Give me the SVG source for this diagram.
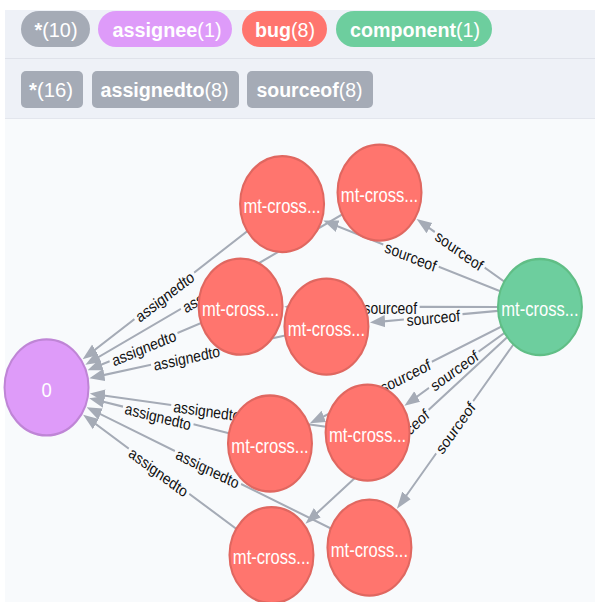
<svg xmlns="http://www.w3.org/2000/svg" width="595" height="602" viewBox="0 0 595 602">
<defs>
<style>
.pt{font-family:"Liberation Sans",Arial,sans-serif;font-size:20px;fill:#fff;text-anchor:middle}
.b{font-weight:bold}
.e{fill:none;stroke:#A5ABB6;stroke-width:1.1;marker-end:url(#ah)}
.el{font-family:"Liberation Sans",Arial,sans-serif;font-size:8.3px;fill:#111;text-anchor:middle}
.nt{font-family:"Liberation Sans",Arial,sans-serif;font-size:11px;fill:#fff;text-anchor:middle}
.bug{fill:#FF756E;stroke:#E06760;stroke-width:1.2}
.asg{fill:#DE9BF9;stroke:#BF85D6;stroke-width:1.2}
.cmp{fill:#6DCE9E;stroke:#60BE86;stroke-width:1.2}
.gp{fill:#A5ABB6}
</style>
<marker id="ah" markerUnits="userSpaceOnUse" viewBox="0 -4 9 8" markerWidth="9" markerHeight="8" refX="4" refY="0" orient="auto"><path d="M0,-3.2 L9,0 L0,3.2 Z" fill="#A5ABB6"/></marker>
</defs>
<rect width="595" height="602" fill="#ffffff"/>
<rect x="5" y="10" width="590" height="108" fill="#EEF1F7"/>
<line x1="5" y1="58.5" x2="595" y2="58.5" stroke="#DFE2EA"/>
<line x1="5" y1="118.5" x2="595" y2="118.5" stroke="#E3E6ED"/>
<rect x="5" y="119" width="590" height="483" fill="#F8FAFC"/>

<g id="legend-labels">
<rect class="gp" x="21" y="11" width="69" height="36" rx="18"/>
<text class="pt" x="56" y="36.5" textLength="43" lengthAdjust="spacingAndGlyphs"><tspan class="b">*</tspan>(10)</text>
<rect x="98" y="11" width="134" height="36" rx="18" fill="#DE9BF9"/>
<text class="pt" x="167" y="36.5" textLength="109" lengthAdjust="spacingAndGlyphs"><tspan class="b">assignee</tspan>(1)</text>
<rect x="242" y="11" width="85" height="36" rx="18" fill="#FF756E"/>
<text class="pt" x="285" y="36.5" textLength="60" lengthAdjust="spacingAndGlyphs"><tspan class="b">bug</tspan>(8)</text>
<rect x="336" y="11" width="156" height="36" rx="18" fill="#6DCE9E"/>
<text class="pt" x="415" y="36.5" textLength="130" lengthAdjust="spacingAndGlyphs"><tspan class="b">component</tspan>(1)</text>
</g>
<g id="legend-types">
<rect class="gp" x="21" y="71" width="62" height="37" rx="5"/>
<text class="pt" x="51" y="96.5" textLength="44" lengthAdjust="spacingAndGlyphs"><tspan class="b">*</tspan>(16)</text>
<rect class="gp" x="92" y="71" width="147" height="37" rx="5"/>
<text class="pt" x="164.5" y="96.5" textLength="128" lengthAdjust="spacingAndGlyphs"><tspan class="b">assignedto</tspan>(8)</text>
<rect class="gp" x="247" y="71" width="126" height="37" rx="5"/>
<text class="pt" x="309.5" y="96.5" textLength="106" lengthAdjust="spacingAndGlyphs"><tspan class="b">sourceof</tspan>(8)</text>
</g>

<g id="graph" transform="matrix(1.68 0 0 1.92 0 0)">
<g id="connectors">
<path class="e" d="M147.23,120.38 L115.57,141.94 M80.03,166.16 L53.33,184.34"/>
<text class="el" transform="translate(97.8,154.05) rotate(-34.26)" y="3.5">assignedto</text>
<path class="e" d="M203.65,111.7 L145.94,141.25 M107.66,160.85 L55.29,187.67"/>
<text class="el" transform="translate(126.8,151.05) rotate(-27.12)" y="3.5">assignedto</text>
<path class="e" d="M119.71,168.26 L105.65,173.39 M65.25,188.11 L56.83,191.18"/>
<text class="el" transform="translate(85.45,180.75) rotate(-20.03)" y="3.5">assignedto</text>
<path class="e" d="M169.74,174.77 L132.12,181.93 M89.88,189.97 L58.15,196.01"/>
<text class="el" transform="translate(111,185.95) rotate(-10.77)" y="3.5">assignedto</text>
<path class="e" d="M136.28,225.64 L115.2,221.01 M73.2,211.79 L57.98,208.45"/>
<text class="el" transform="translate(94.2,216.4) rotate(12.38)" y="3.5">assignedto</text>
<path class="e" d="M193.99,222.25 L144.59,216.18 M101.91,210.92 L58.47,205.59"/>
<text class="el" transform="translate(123.25,213.55) rotate(7.01)" y="3.5">assignedto</text>
<path class="e" d="M140.66,275.45 L112.66,257.19 M76.64,233.71 L53.67,218.73"/>
<text class="el" transform="translate(94.65,245.45) rotate(33.11)" y="3.5">assignedto</text>
<path class="e" d="M196.97,275.25 L143.52,252.06 M104.08,234.94 L56.14,214.14"/>
<text class="el" transform="translate(123.8,243.5) rotate(23.46)" y="3.5">assignedto</text>

<path class="e" d="M297.8,151.66 L261.17,138.87 M228.13,127.33 L197.17,116.52"/>
<text class="el" transform="translate(244.65,133.1) rotate(19.25)" y="3.5">sourceof</text>
<path class="e" d="M300.19,146.66 L288.5,139.36 M258.8,120.84 L252.2,116.71"/>
<text class="el" transform="translate(273.65,130.1) rotate(31.97)" y="3.5">sourceof</text>
<path class="e" d="M296.4,159.93 L249.8,159.82 M214.8,159.78 L174.2,159.73"/>
<text class="el" transform="translate(232.3,159.8)" y="3.5">sourceof</text>
<path class="e" d="M296.48,161.9 L275.29,163.6 M240.41,166.4 L225.2,167.62"/>
<text class="el" transform="translate(257.85,165) rotate(-4.59)" y="3.5">sourceof</text>
<path class="e" d="M298.54,170.02 L257.05,188.37 M225.05,202.53 L189.05,218.46"/>
<text class="el" transform="translate(241.05,195.45) rotate(-23.87)" y="3.5">sourceof</text>
<path class="e" d="M300.32,173.34 L284.86,183.19 M255.34,202.01 L244.94,208.64"/>
<text class="el" transform="translate(270.1,192.6) rotate(-32.52)" y="3.5">sourceof</text>
<path class="e" d="M301.96,175.62 L255.11,213.5 M227.89,235.5 L185.71,269.61"/>
<text class="el" transform="translate(241.5,224.5) rotate(-38.95)" y="3.5">sourceof</text>
<path class="e" d="M305.66,179.33 L281.67,208.95 M259.63,236.15 L239.41,261.11"/>
<text class="el" transform="translate(270.65,222.55) rotate(-51)" y="3.5">sourceof</text>
</g>

<g id="assignee-0"><circle class="asg" cx="27.7" cy="201.8" r="25"/><text class="nt" x="27.7" y="206.6">0</text></g>
<g id="bug-1"><circle class="bug" cx="167.9" cy="106.3" r="25"/><text class="nt" x="167.9" y="111.1" textLength="46" lengthAdjust="spacingAndGlyphs">mt-cross...</text></g>
<g id="bug-2"><circle class="bug" cx="225.9" cy="100.3" r="25"/><text class="nt" x="225.9" y="105.1" textLength="46" lengthAdjust="spacingAndGlyphs">mt-cross...</text></g>
<g id="bug-3"><circle class="bug" cx="143.2" cy="159.7" r="25"/><text class="nt" x="143.2" y="164.5" textLength="46" lengthAdjust="spacingAndGlyphs">mt-cross...</text></g>
<g id="bug-4"><circle class="bug" cx="194.3" cy="170.1" r="25"/><text class="nt" x="194.3" y="174.9" textLength="46" lengthAdjust="spacingAndGlyphs">mt-cross...</text></g>
<g id="bug-5"><circle class="bug" cx="160.7" cy="231" r="25"/><text class="nt" x="160.7" y="235.8" textLength="46" lengthAdjust="spacingAndGlyphs">mt-cross...</text></g>
<g id="bug-6"><circle class="bug" cx="218.8" cy="225.3" r="25"/><text class="nt" x="218.8" y="230.1" textLength="46" lengthAdjust="spacingAndGlyphs">mt-cross...</text></g>
<g id="bug-7"><circle class="bug" cx="161.6" cy="289.1" r="25"/><text class="nt" x="161.6" y="293.9" textLength="46" lengthAdjust="spacingAndGlyphs">mt-cross...</text></g>
<g id="bug-8"><circle class="bug" cx="219.9" cy="285.2" r="25"/><text class="nt" x="219.9" y="290" textLength="46" lengthAdjust="spacingAndGlyphs">mt-cross...</text></g>
<g id="component-1"><circle class="cmp" cx="321.4" cy="159.9" r="25"/><text class="nt" x="321.4" y="164.7" textLength="46" lengthAdjust="spacingAndGlyphs">mt-cross...</text></g>
</g>
</svg>
